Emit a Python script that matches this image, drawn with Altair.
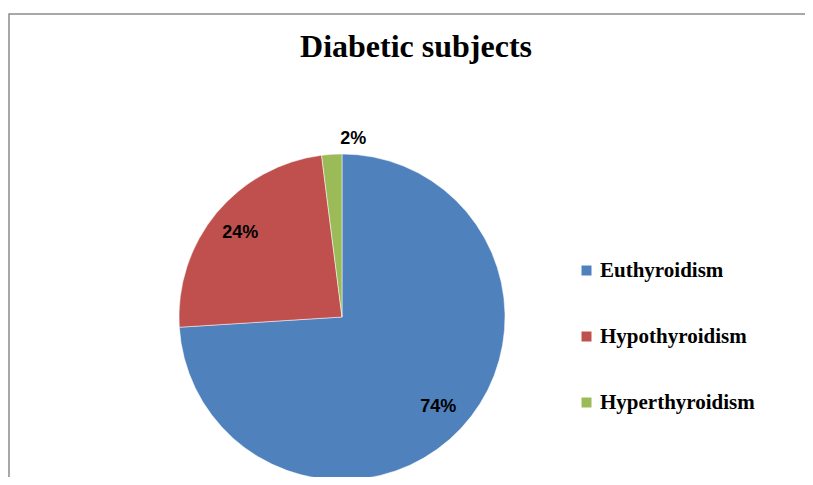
import altair as alt
import pandas as pd

categories = ["Euthyroidism", "Hypothyroidism", "Hyperthyroidism"]
values = [74, 24, 2]
labels = ["74%", "24%", "2%"]
order = [1, 2, 3]
colors = ["#4F81BD", "#C0504D", "#9BBB59"]

df = pd.DataFrame({"cat": categories, "val": values, "lab": labels, "ord": order})

W, H = 797, 469
CX, CY, R = 334, 309, 163

color = alt.Color("cat:N", scale=alt.Scale(domain=categories, range=colors),
                  sort=categories,
                  legend=alt.Legend(title=None, orient="none", legendX=568, legendY=252,
                                    symbolType="square", symbolSize=100, symbolStrokeWidth=0,
                                    labelFont="Liberation Serif", labelFontWeight="bold",
                                    labelFontSize=21, labelColor="#000000", labelOffset=3,
                                    rowPadding=44, labelLimit=300))

base = alt.Chart(df)

pie = base.mark_arc(radius=R, stroke="white", strokeWidth=0.5).encode(
    theta=alt.Theta("val:Q", stack=True),
    order=alt.Order("ord:Q"),
    color=color,
    x=alt.value(CX), y=alt.value(CY),
)

inner = base.transform_filter("datum.val >= 10").mark_text(
    radius=132, font="Liberation Sans", fontWeight="bold", fontSize=18, color="#000000",
    align="center", baseline="middle"
).encode(
    theta=alt.Theta("val:Q", stack=True),
    order=alt.Order("ord:Q"),
    text="lab:N",
    x=alt.value(CX), y=alt.value(CY),
)

outer = base.transform_filter("datum.val < 10").mark_text(
    radius=178, font="Liberation Sans", fontWeight="bold", fontSize=18, color="#000000",
    align="center", baseline="middle"
).encode(
    theta=alt.Theta("val:Q", stack=True),
    order=alt.Order("ord:Q"),
    text="lab:N",
    x=alt.value(CX), y=alt.value(CY),
)

title = alt.Chart(pd.DataFrame({"t": ["Diabetic subjects"]})).mark_text(
    font="Liberation Serif", fontWeight="bold", fontSize=32, color="#000000",
    align="center", baseline="middle"
).encode(text="t:N", x=alt.value(408), y=alt.value(39))

frame = alt.Chart(pd.DataFrame({"a": [0]})).mark_rect(
    fillOpacity=0, stroke="#8c8c8c", strokeWidth=1.5
).encode(x=alt.value(1), x2=alt.value(830), y=alt.value(6), y2=alt.value(520))

chart = alt.layer(frame, pie, inner, outer, title).properties(
    width=W, height=H, autosize=alt.AutoSizeParams(type="none"), padding=0
).configure_view(stroke=None)

chart.save("out.html", embed_options={"renderer": "svg", "actions": False})
